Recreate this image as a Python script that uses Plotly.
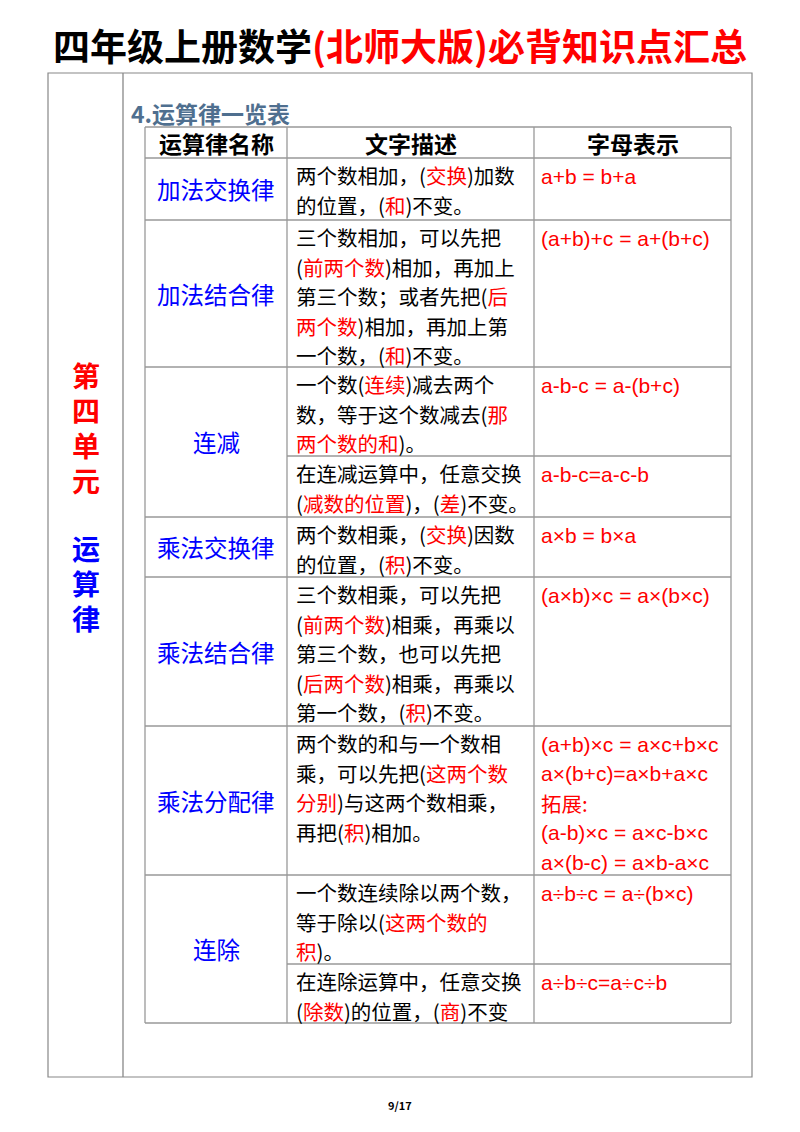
import plotly.graph_objects as go

R = "<span style='color:#ff0000'>{}</span>"
title_black = "四年级上册数学"
title_red = "(北师大版)必背知识点汇总"
section_title = "4.运算律一览表"
headers = ["运算律名称", "文字描述", "字母表示"]
side_red = ["第", "四", "单", "元"]
side_blue = ["运", "算", "律"]
page_no = "9/17"

names = ["加法交换律", "加法结合律", "连减", "乘法交换律", "乘法结合律", "乘法分配律", "连除"]
# description blocks (sub-rows), red parts marked with [ ]
descriptions = [
    ["两个数相加，([交换])加数", "的位置，([和])不变。"],
    ["三个数相加，可以先把", "([前两个数])相加，再加上", "第三个数；或者先把([后]", "[两个数])相加，再加上第", "一个数，([和])不变。"],
    ["一个数([连续])减去两个", "数，等于这个数减去([那]", "[两个数的和])。"],
    ["在连减运算中，任意交换", "([减数的位置])，([差])不变。"],
    ["两个数相乘，([交换])因数", "的位置，([积])不变。"],
    ["三个数相乘，可以先把", "([前两个数])相乘，再乘以", "第三个数，也可以先把", "([后两个数])相乘，再乘以", "第一个数，([积])不变。"],
    ["两个数的和与一个数相", "乘，可以先把([这两个数]", "[分别])与这两个数相乘，", "再把([积])相加。"],
    ["一个数连续除以两个数，", "等于除以([这两个数的]", "[积])。"],
    ["在连除运算中，任意交换", "([除数])的位置，([商])不变"],
]
formulas = [
    ["a+b = b+a"],
    ["(a+b)+c = a+(b+c)"],
    ["a-b-c = a-(b+c)"],
    ["a-b-c=a-c-b"],
    ["a×b = b×a"],
    ["(a×b)×c = a×(b×c)"],
    ["(a+b)×c = a×c+b×c", "a×(b+c)=a×b+a×c", "拓展:", "(a-b)×c = a×c-b×c", "a×(b-c) = a×b-a×c"],
    ["a÷b÷c = a÷(b×c)"],
    ["a÷b÷c=a÷c÷b"],
]

# layout geometry (pixels)
W, H = 800, 1132
OFF = 8  # page body margin compensation
sub_tops = [158, 220, 367, 456, 517, 577, 726, 875, 964]
sub_bottom = 1023
name_groups = [[0], [1], [2, 3], [4], [5], [6], [7, 8]]
TX0, C1, C2, TX1 = 145, 287, 534, 731
HEAD_TOP = 127
LINE = 29.5
CJK = "Noto Sans CJK SC"

def mark(s):
    return s.replace("[", "<span style='color:#ff0000'>").replace("]", "</span>")

fig = go.Figure()
shapes = []
ann = []
def line(x0, y0, x1, y1, c="#999999", w=1.3):
    shapes.append(dict(type="line", x0=x0, y0=y0, x1=x1, y1=y1, line=dict(color=c, width=w), layer="above"))
def text(x, y, t, size=18, color="black", anchor="left", bold=False, family=CJK):
    if bold:
        t = "<b>" + t + "</b>"
    ann.append(dict(x=x, y=y, text=t, showarrow=False, xanchor=anchor, yanchor="middle",
                    font=dict(size=size, color=color, family=family)))

text(400, 45, title_black + R.format(title_red), size=37, anchor="center", bold=True)
shapes.append(dict(type="rect", x0=48, y0=73, x1=752, y1=1077, line=dict(color="#888", width=1.2)))
line(123, 73, 123, 1077, "#888")
text(129, 113, section_title, size=23, color="#4f6f8f", bold=True)
for i, ch in enumerate(side_red):
    text(86, 375 + i * 35, ch, size=28, color="#ff0000", anchor="center", bold=True)
for i, ch in enumerate(side_blue):
    text(86, 548 + i * 35, ch, size=28, color="#0000ff", anchor="center", bold=True)

bounds = sub_tops + [sub_bottom]
line(TX0, HEAD_TOP, TX1, HEAD_TOP)
for x in (TX0, C1, C2, TX1):
    line(x, HEAD_TOP, x, sub_bottom)
line(TX0, sub_tops[0], TX1, sub_tops[0])
for g in name_groups:
    for k in g:
        line(C1, bounds[k + 1], TX1, bounds[k + 1])
    line(TX0, bounds[g[-1] + 1], C1, bounds[g[-1] + 1])

for x, h in zip([(TX0 + C1) / 2, (C1 + C2) / 2, (C2 + TX1) / 2], headers):
    text(x, 143, h, size=23, anchor="center", bold=True)

for nm, g in zip(names, name_groups):
    yc = (bounds[g[0]] + bounds[g[-1] + 1]) / 2
    text((TX0 + C1) / 2, yc, nm, size=23.5, color="#0000ff", anchor="center")

for k, (d, f) in enumerate(zip(descriptions, formulas)):
    top = bounds[k]
    for i, s in enumerate(d):
        text(294, top + 17 + i * LINE, mark(s), size=20.5)
    for i, s in enumerate(f):
        text(539, top + 18 + i * LINE, s, size=20.5 if "拓" in s else 21, color="#ff0000",
             family=CJK if "拓" in s else "Liberation Sans, Arial")

text(400, 1105, page_no, size=11, anchor="center", bold=True)

fig.update_layout(width=W, height=H, margin=dict(l=0, r=0, t=0, b=0),
                  plot_bgcolor="white", paper_bgcolor="white", shapes=shapes, annotations=ann,
                  xaxis=dict(range=[OFF, W + OFF], visible=False, fixedrange=True),
                  yaxis=dict(range=[H + OFF, OFF], visible=False, fixedrange=True), showlegend=False)
fig.write_html("out.html", config={"displayModeBar": False})
